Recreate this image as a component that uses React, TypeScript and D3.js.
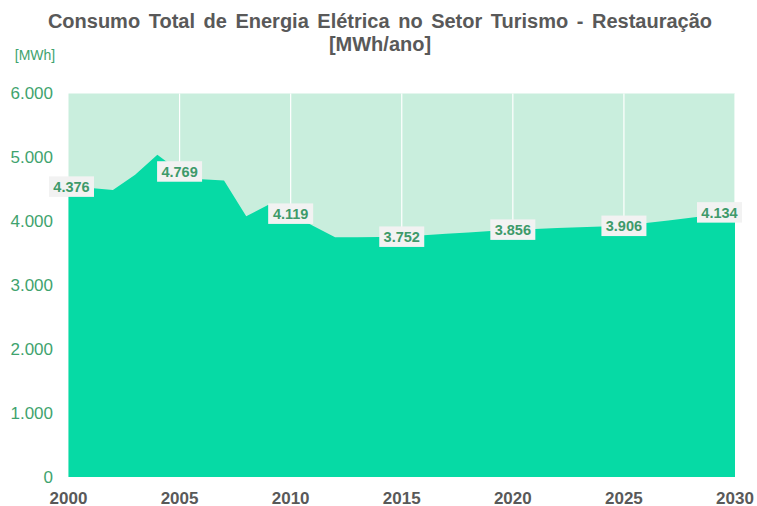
import React from "react";
import * as d3 from "d3";

const years = [2000,2001,2002,2003,2004,2005,2006,2007,2008,2009,2010,2011,2012,2013,2014,2015,2016,2017,2018,2019,2020,2021,2022,2023,2024,2025,2026,2027,2028,2029,2030];
const consumo = [4543,4520,4490,4730,5040,4780,4660,4640,4080,4260,4120,3930,3750,3752,3755,3760,3782,3804,3826,3848,3870,3882,3894,3906,3918,3930,3972,4014,4056,4098,4140];
const labelYears = [2000, 2005, 2010, 2015, 2020, 2025, 2030];
const labelTexts = ["4.376", "4.769", "4.119", "3.752", "3.856", "3.906", "4.134"];
const yTicks = [0, 1000, 2000, 3000, 4000, 5000, 6000];
const xTicks = [2000, 2005, 2010, 2015, 2020, 2025, 2030];
const titleLines = ["Consumo Total de Energia Elétrica no Setor Turismo - Restauração", "[MWh/ano]"];
const unitLabel = "[MWh]";

const W = 757, H = 506;
const L = 68.5, R = 735, T = 93.5, B = 477;
const FONT = "'Liberation Sans', Arial, sans-serif";

export default function App() {
  const x = d3.scaleLinear().domain([2000, 2030]).range([L, R]);
  const y = d3.scaleLinear().domain([0, 6000]).range([B, T]);
  const data = years.map((yr, i) => ({ yr, v: consumo[i] }));
  const area = d3.area<{ yr: number; v: number }>().x(d => x(d.yr)).y0(y(0)).y1(d => y(d.v));
  const fmt = (v: number) => (v === 0 ? "0" : d3.format(",")(v).replace(/,/g, "."));

  return (
    <svg width={W} height={H} style={{ position: "absolute", left: 0, top: 0, background: "#fff" }} fontFamily={FONT}>
      <text x={380} y={27.5} textAnchor="middle" fontSize={20} fontWeight="bold" fill="#595959" wordSpacing={3}>{titleLines[0]}</text>
      <text x={380} y={50.5} textAnchor="middle" fontSize={20} fontWeight="bold" fill="#595959">{titleLines[1]}</text>
      <text x={35} y={59.5} textAnchor="middle" fontSize={14} fill="#3FA36E">{unitLabel}</text>

      <rect x={L} y={y(6000)} width={R - L} height={y(0) - y(6000)} fill="#C9EEDD" />
      {xTicks.slice(1).map(t => (
        <line key={t} x1={x(t)} x2={x(t)} y1={y(6000)} y2={y(0)} stroke="#ffffff" strokeWidth={1.2} />
      ))}
      <path d={area(data) || ""} fill="#06DAA5" />

      {yTicks.map(t => (
        <text key={t} x={53} y={y(t)} dy="0.35em" textAnchor="end" fontSize={17} fill="#3FA36E">{fmt(t)}</text>
      ))}
      {xTicks.map(t => (
        <text key={t} x={x(t)} y={503.5} textAnchor="middle" fontSize={17} fontWeight="bold" fill="#595959">{t}</text>
      ))}

      {labelYears.map((yr, i) => {
        const v = consumo[years.indexOf(yr)];
        const cx = Math.min(Math.max(x(yr), L + 3), R - 15.5);
        const cy = y(v);
        const bw = 45, bh = 20.5;
        return (
          <g key={yr}>
            <rect x={cx - bw / 2} y={cy - bh / 2} width={bw} height={bh} fill="#F2F2F2" />
            <text x={cx} y={cy} dy="0.36em" textAnchor="middle" fontSize={14.5} fontWeight="bold" fill="#3E9A6A">{labelTexts[i]}</text>
          </g>
        );
      })}
    </svg>
  );
}
